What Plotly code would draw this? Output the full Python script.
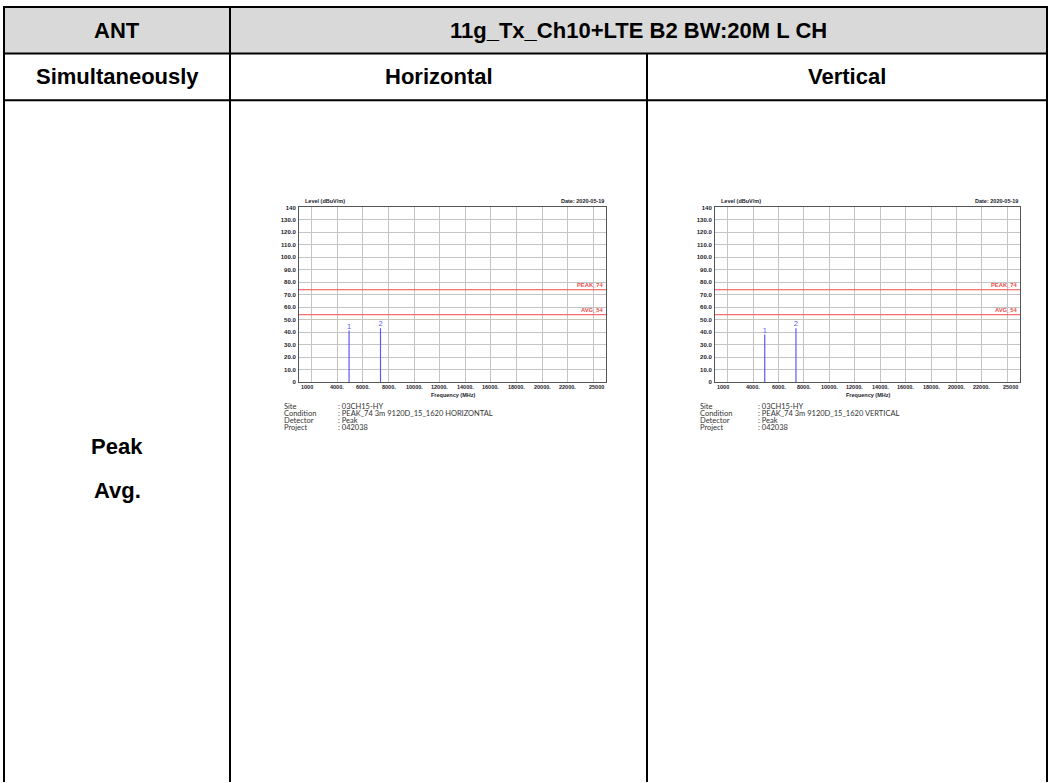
import plotly.graph_objects as go

W, H = 1051, 783

# ---- table content ----
ant_label = "ANT"
mode_title = "11g_Tx_Ch10+LTE B2 BW:20M L CH"
col_heads = ["Simultaneously", "Horizontal", "Vertical"]
detectors = ["Peak", "Avg."]

# ---- spectrum plots ----
freq_range = [1000, 25000]
level_range = [0, 140]
limit_names = ["PEAK_74", "AVG_54"]
limit_levels = [74, 54]
marker_ids = ["1", "2"]
h_marker_freq = [4914, 7371]
h_marker_level = [41.4, 43.2]
v_marker_freq = [4914, 7371]
v_marker_level = [38.2, 43.2]

x_grid = [2000, 4000, 6000, 8000, 10000, 12000, 14000, 16000, 18000, 20000, 22000, 24000]
x_label_vals = [1000, 4000, 6000, 8000, 10000, 12000, 14000, 16000, 18000, 20000, 22000, 25000]
x_label_text = ["1000", "4000.", "6000.", "8000.", "10000.", "12000.", "14000.",
                "16000.", "18000.", "20000.", "22000.", "25000"]
y_tick_vals = [0, 10, 20, 30, 40, 50, 60, 70, 80, 90, 100, 110, 120, 130, 140]
y_tick_text = ["0", "10.0", "20.0", "30.0", "40.0", "50.0", "60.0", "70.0", "80.0",
               "90.0", "100.0", "110.0", "120.0", "130.0", "140"]

y_title = "Level (dBuV/m)"
x_title = "Frequency (MHz)"
date_text = "Date: 2020-05-19"
info_keys = ["Site", "Condition", "Detector", "Project"]
h_info_vals = [": 03CH15-HY", ": PEAK_74 3m 9120D_15_1620 HORIZONTAL", ": Peak", ": 042038"]
v_info_vals = [": 03CH15-HY", ": PEAK_74 3m 9120D_15_1620 VERTICAL", ": Peak", ": 042038"]


def px(x):
    return x / W


def py(y):
    return 1 - y / H


# table grid geometry (pixels)
T_LEFT, T_RIGHT, T_TOP = 4, 1047, 4
ROW1, ROW2 = 51, 98
COL1, COL2 = 230, 647

HEAD_FONT = dict(family="Liberation Sans, Arial", size=22, color="black", weight="bold")
TICK_FONT = dict(family="Liberation Sans, Arial", size=5.5, color="#1a1a2a", weight="bold")
YTICK_FONT = dict(family="Liberation Sans, Arial", size=6, color="#1a1a2a", weight="bold")
INFO_FONT = dict(family="Lato, Liberation Sans", size=7.5, color="#333333")

fig = go.Figure()
shapes = []
annotations = []

# header fill
shapes.append(dict(type="rect", xref="paper", yref="paper",
                   x0=px(T_LEFT), x1=px(T_RIGHT), y0=py(ROW1), y1=py(T_TOP),
                   fillcolor="#d9d9d9", line=dict(width=0), layer="below"))


def hline(y, x0, x1):
    shapes.append(dict(type="line", xref="paper", yref="paper", x0=px(x0), x1=px(x1),
                       y0=py(y), y1=py(y), line=dict(color="black", width=2)))


def vline(x, y0, y1):
    shapes.append(dict(type="line", xref="paper", yref="paper", x0=px(x), x1=px(x),
                       y0=py(y0), y1=py(y1), line=dict(color="black", width=2)))


hline(T_TOP, T_LEFT - 1, T_RIGHT + 1)
hline(ROW1, T_LEFT, T_RIGHT)
hline(ROW2, T_LEFT, T_RIGHT)
vline(T_LEFT, T_TOP, H + 2)
vline(T_RIGHT, T_TOP, H + 2)
vline(COL1, T_TOP, H + 2)
vline(COL2, ROW1, H + 2)


def label(text, x, y, font, xanchor="center", yanchor="middle", xref="paper", yref="paper"):
    annotations.append(dict(text=text, x=x, y=y, xref=xref, yref=yref, showarrow=False,
                            xanchor=xanchor, yanchor=yanchor, font=font))


label(ant_label, px((T_LEFT + COL1) / 2), py((T_TOP + ROW1) / 2), HEAD_FONT)
label(mode_title, px((COL1 + T_RIGHT) / 2), py((T_TOP + ROW1) / 2), HEAD_FONT)
for txt, (a, b) in zip(col_heads, [(T_LEFT, COL1), (COL1, COL2), (COL2, T_RIGHT)]):
    label(txt, px((a + b) / 2), py((ROW1 + ROW2) / 2), HEAD_FONT)
for txt, yy in zip(detectors, [447, 491]):
    label(txt, px((T_LEFT + COL1) / 2), py(yy), HEAD_FONT)

# plot panels: (axis suffix, left, right, marker freqs, marker levels, info values, key x, value x)
PLOT_TOP, PLOT_BOTTOM = 206, 382
panels = [
    ("", 299, 606, h_marker_freq, h_marker_level, h_info_vals, 282, 336),
    ("2", 715, 1020, v_marker_freq, v_marker_level, v_info_vals, 698, 756),
]

BLUE = "#5a5aff"
RED = "#ee4c4c"

for ax, left, right, mf, ml, info_vals, ix, vx in panels:
    xa = "x" + ax
    ya = "y" + ax
    # limit lines
    for name, lvl in zip(limit_names, limit_levels):
        fig.add_trace(go.Scatter(x=freq_range, y=[lvl, lvl], mode="lines",
                                 line=dict(color=RED, width=1), xaxis=xa, yaxis=ya,
                                 hoverinfo="skip"))
        label(name, freq_range[1], lvl, dict(family="Liberation Sans, Arial", size=5.8,
                                             color=RED, weight="bold"),
              xanchor="right", yanchor="bottom", xref=xa, yref=ya)
    # marker sticks
    xs, ys = [], []
    for f, lv in zip(mf, ml):
        xs += [f, f, None]
        ys += [0, lv, None]
    fig.add_trace(go.Scatter(x=xs, y=ys, mode="lines", line=dict(color=BLUE, width=1.2),
                             xaxis=xa, yaxis=ya, hoverinfo="skip"))
    fig.add_trace(go.Scatter(x=mf, y=ml, mode="text", text=marker_ids,
                             textposition="top center",
                             textfont=dict(family="Liberation Sans, Arial", size=7.5, color=BLUE),
                             xaxis=xa, yaxis=ya, hoverinfo="skip"))
    # x tick labels
    for v, t in zip(x_label_vals, x_label_text):
        anchor = "left" if v == freq_range[0] else ("right" if v == freq_range[1] else "center")
        label(t, v, py(387), TICK_FONT, xanchor=anchor, xref=xa, yref="paper")
    label(x_title, px((left + right) / 2), py(395), TICK_FONT)
    label(y_title, px(left + 4), py(PLOT_TOP - 1), TICK_FONT, xanchor="left", yanchor="bottom")
    label(date_text, px(right), py(PLOT_TOP - 1), TICK_FONT, xanchor="right", yanchor="bottom")
    # run information
    for i, (k, v) in enumerate(zip(info_keys, info_vals)):
        yy = 407 + i * 7
        label(k, px(ix), py(yy), INFO_FONT, xanchor="left")
        label(v, px(vx), py(yy), INFO_FONT, xanchor="left")

    axis_common = dict(showline=True, mirror=True, linecolor="#555555", linewidth=1,
                       gridcolor="#c4c4c4", gridwidth=1, zeroline=False, ticks="")
    fig.update_layout(**{
        "xaxis" + ax: dict(domain=[px(left), px(right)], range=freq_range,
                           tickvals=x_grid, showticklabels=False,
                           anchor="y" + ax, **axis_common),
        "yaxis" + ax: dict(domain=[py(PLOT_BOTTOM), py(PLOT_TOP)], range=level_range,
                           tickvals=y_tick_vals, ticktext=y_tick_text, tickfont=YTICK_FONT,
                           ticklabelstandoff=1, anchor="x" + ax, **axis_common),
    })

fig.update_layout(width=W, height=H, margin=dict(l=0, r=0, t=0, b=0),
                  paper_bgcolor="white", plot_bgcolor="white", showlegend=False,
                  shapes=shapes, annotations=annotations)

fig.write_html("out.html")
